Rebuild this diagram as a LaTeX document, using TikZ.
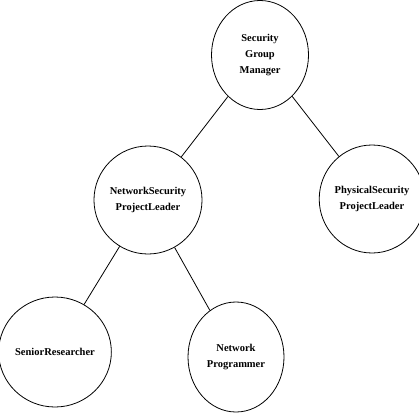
\documentclass[tikz,border=0pt]{standalone}
\usepackage{fontspec}
\setmainfont{Liberation Serif}
\usetikzlibrary{shapes.geometric}
\begin{document}
\begin{tikzpicture}[x=1pt,y=-1pt,
  role/.style={ellipse,draw,line width=0.8pt,inner sep=0pt,align=center,
    minimum width=97,minimum height=109,
    font=\bfseries\fontsize{10.5}{16}\selectfont},
  link/.style={draw,line width=0.8pt}]
\useasboundingbox (0,0) rectangle (419,417);
\node[role] (mgr) at (260,55) {Security\\Group\\Manager};
\node[role,minimum width=99,minimum height=108] (ns) at (148,200) {NetworkSecurity\\ProjectLeader};
\node[role,minimum width=94,minimum height=108] (ps) at (372,199) {PhysicalSecurity\\ProjectLeader};
\node[role,minimum height=110] (sr) at (55,352) {SeniorResearcher};
\node[role,minimum width=96,minimum height=110] (np) at (236,357) {Network\\Programmer};
\draw[link] (mgr) -- (ns);
\draw[link] (mgr) -- (ps);
\draw[link] (ns) -- (sr);
\draw[link] (ns) -- (np);
\end{tikzpicture}
\end{document}
